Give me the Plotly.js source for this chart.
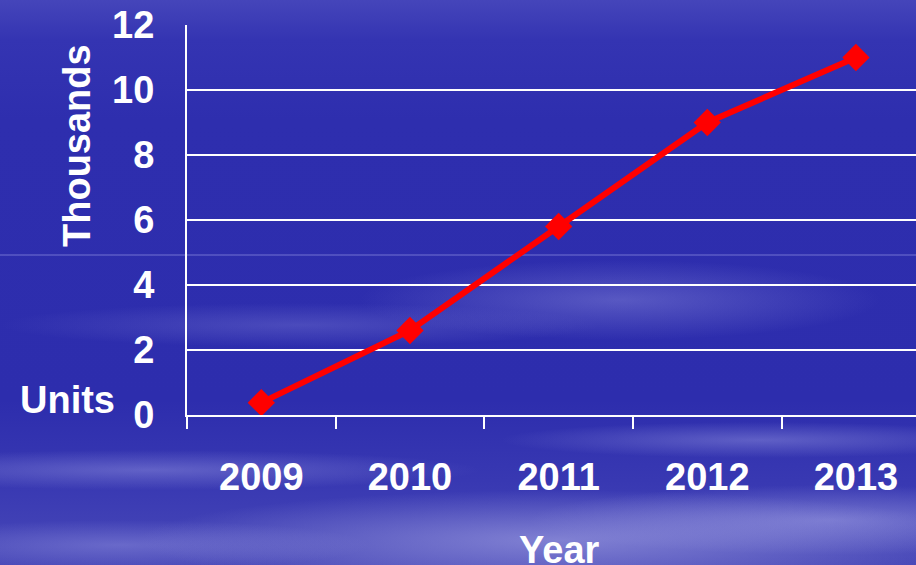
<!DOCTYPE html>
<html>
<head>
<meta charset="utf-8">
<script src="https://cdn.plot.ly/plotly-3.0.1.min.js"></script>
<style>
html,body{margin:0;padding:0;width:916px;height:565px;overflow:hidden;}
#bg{position:absolute;left:0;top:0;width:916px;height:565px;
background:
 radial-gradient(ellipse 260px 40px at 620px 300px, rgba(140,140,220,0.45), rgba(140,140,220,0) 100%),
 radial-gradient(ellipse 300px 22px at 300px 325px, rgba(130,130,215,0.35), rgba(130,130,215,0) 100%),
 radial-gradient(ellipse 330px 20px at 150px 470px, rgba(150,150,225,0.45), rgba(150,150,225,0) 100%),
 radial-gradient(ellipse 260px 18px at 760px 440px, rgba(150,150,225,0.45), rgba(150,150,225,0) 100%),
 radial-gradient(ellipse 420px 50px at 560px 540px, rgba(170,170,230,0.6), rgba(170,170,230,0) 100%),
 radial-gradient(ellipse 300px 35px at 830px 520px, rgba(160,160,228,0.55), rgba(160,160,228,0) 100%),
 radial-gradient(ellipse 250px 25px at 120px 545px, rgba(150,150,225,0.45), rgba(150,150,225,0) 100%),
 linear-gradient(to bottom, #4545ba 0px, #3434b2 40px, #2e2eae 120px, #2d2dad 400px, #3838b2 480px, #4848b8 565px);
}
#chart{position:absolute;left:0;top:0;width:916px;height:565px;}
</style>
</head>
<body>
<div id="bg"></div>
<div id="chart"></div>
<script>
var years = ['2009', '2010', '2011', '2012', '2013'];
var units = [0.38, 2.6, 5.8, 9.0, 11.0];
var yTicks = [0, 2, 4, 6, 8, 10, 12];

var W = 916, H = 565, L = 187, R = 0, T = 25, B = 150;
var pw = W - L - R, ph = H - T - B;
function px(x){ return (x - L) / pw; }
function py(y){ return (H - B - y) / ph; }

var font = {family: 'Liberation Sans, Arial, sans-serif', size: 38, color: '#ffffff'};

var trace = {
  x: years, y: units, type: 'scatter', mode: 'lines+markers',
  line: {color: '#ff0000', width: 6},
  marker: {symbol: 'diamond', size: 21, color: '#ff0000'},
  cliponaxis: false
};

var layout = {
  width: W, height: H,
  margin: {l: L, r: R, t: T, b: B, pad: 0},
  paper_bgcolor: 'rgba(0,0,0,0)',
  plot_bgcolor: 'rgba(0,0,0,0)',
  showlegend: false,
  font: font,
  xaxis: {
    type: 'category', range: [-0.5, 4.404],
    tickson: 'boundaries', ticks: 'outside', ticklen: 12, tickwidth: 2, tickcolor: '#ffffff',
    showgrid: false, showline: true, linecolor: '#ffffff', linewidth: 2,
    tickfont: {family: font.family, size: 38, color: '#ffffff', weight: 'bold'},
    ticklabelstandoff: 27, fixedrange: true
  },
  yaxis: {
    range: [0, 12], tickvals: yTicks, ticktext: yTicks.map(String),
    showgrid: true, gridcolor: '#ffffff', gridwidth: 2,
    zeroline: false, showline: true, linecolor: '#ffffff', linewidth: 2,
    ticks: '', tickfont: {family: font.family, size: 38, color: '#ffffff', weight: 'bold'},
    ticklabelstandoff: 23, fixedrange: true
  },
  shapes: [
    {type: 'line', xref: 'paper', yref: 'paper', x0: px(0), x1: px(W), y0: py(255), y1: py(255),
     line: {color: 'rgba(200,200,255,0.45)', width: 1}, layer: 'below'}
  ],
  annotations: [
    {text: '<b>Thousands</b>', xref: 'paper', yref: 'paper', x: px(77), y: py(146), textangle: -90,
     showarrow: false, xanchor: 'center', yanchor: 'middle', font: {family: font.family, size: 38, color: '#ffffff'}},
    {text: '<b>Units</b>', xref: 'paper', yref: 'paper', x: px(67), y: py(400),
     showarrow: false, xanchor: 'center', yanchor: 'middle', font: {family: font.family, size: 38, color: '#ffffff'}},
    {text: '<b>Year</b>', xref: 'paper', yref: 'paper', x: px(559), y: py(550),
     showarrow: false, xanchor: 'center', yanchor: 'middle', font: {family: font.family, size: 38, color: '#ffffff'}}
  ]
};

Plotly.newPlot('chart', [trace], layout, {displayModeBar: false, staticPlot: true});
</script>
</body>
</html>
